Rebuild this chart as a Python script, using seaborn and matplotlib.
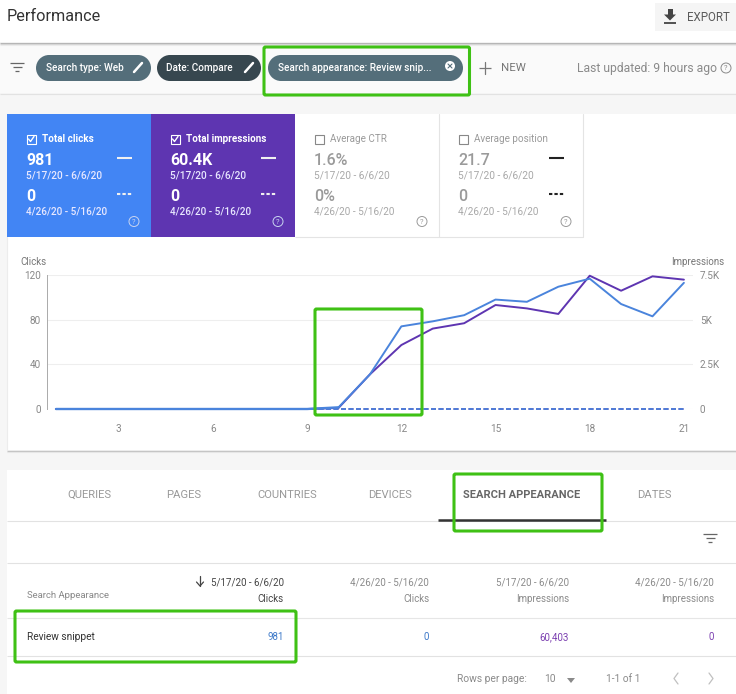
import matplotlib
matplotlib.use('Agg')
import matplotlib.pyplot as plt
import seaborn as sns
from matplotlib.patches import FancyBboxPatch, Rectangle, Circle

days = list(range(1, 22))
clicks_current = [0, 0, 0, 0, 0, 0, 0, 0, 0, 1.5, 31, 74, 78.5, 84, 98, 96, 109.5, 116.7, 94, 83, 113]
impressions_current = [0, 0, 0, 0, 0, 0, 0, 0, 0, 60, 1940, 3580, 4500, 4800, 5820, 5630, 5320, 7460, 6620, 7425, 7240]
clicks_previous = [0] * 21
impressions_previous = [0] * 21

click_ticks = [0, 40, 80, 120]
impression_ticks = [0, 2500, 5000, 7500]
impression_tick_labels = ['0', '2.5K', '5K', '7.5K']
day_ticks = [3, 6, 9, 12, 15, 18, 21]

card_titles = ['Total clicks', 'Total impressions', 'Average CTR', 'Average position']
card_current = ['981', '60.4K', '1.6%', '21.7']
card_previous = ['0', '0', '0%', '0']
chips = ['Search type: Web', 'Date: Compare', 'Search appearance: Review snip...']
tabs = ['QUERIES', 'PAGES', 'COUNTRIES', 'DEVICES', 'SEARCH APPEARANCE', 'DATES']
table_dates = ['5/17/20 - 6/6/20', '4/26/20 - 5/16/20', '5/17/20 - 6/6/20', '4/26/20 - 5/16/20']
table_metrics = ['Clicks', 'Clicks', 'Impressions', 'Impressions']
table_values = ['981', '0', '60,403', '0']

BLUE = '#4285f4'
PURPLE = '#5e35b1'
LINE_BLUE = '#4a84dc'
GREEN = '#3fc115'
GREY = '#7a7a7a'

sns.set_theme(style='white')
plt.rcParams['font.family'] = ['Roboto', 'DejaVu Sans']

fig = plt.figure(figsize=(7.36, 6.94), dpi=100, facecolor='#f6f6f6')


def pixel_axes(zorder):
    a = fig.add_axes([0, 0, 1, 1], zorder=zorder)
    a.set_xlim(0, 736)
    a.set_ylim(694, 0)
    a.axis('off')
    return a


bg = pixel_axes(0)
top = pixel_axes(5)


def txt(x, y, s, size=6.6, color=GREY, ha='left', weight='normal', a=None):
    (a or bg).text(x, y, s, fontsize=size, color=color, ha=ha, va='center', weight=weight, zorder=4)


def box(x0, y0, x1, y1, color, ec='none', lw=0, z=1):
    bg.add_patch(Rectangle((x0, y0), x1 - x0, y1 - y0, fc=color, ec=ec, lw=lw, zorder=z))


def hline(x0, x1, y, color='#e0e0e0', lw=0.8, ls='-', z=2):
    bg.plot([x0, x1], [y, y], color=color, lw=lw, ls=ls, zorder=z, solid_capstyle='butt')


def filter_icon(x, y):
    hline(x - 7, x + 7, y - 4, color='#666666', lw=0.9)
    hline(x - 4.5, x + 4.5, y, color='#666666', lw=0.9)
    hline(x - 2, x + 2, y + 4, color='#666666', lw=0.9)


def help_icon(x, y, color):
    bg.add_patch(Circle((x, y), 5, fc='none', ec=color, lw=0.7, zorder=3))
    txt(x, y, '?', size=5.5, color=color, ha='center')


# header
box(0, 0, 736, 42, 'white')
for i, c in enumerate(['#b5b5b5', '#d5d5d5', '#ebebeb']):
    hline(0, 736, 42.5 + i, color=c, lw=0.8)
txt(7, 16, 'Performance', size=11.7, color='#333333')
box(655, 3, 736, 31, '#f5f5f5')
bg.fill([664, 676, 670], [14.5, 14.5, 20.5], color='#444444', lw=0, zorder=3)
bg.add_patch(Rectangle((667.5, 9), 5, 6, fc='#444444', lw=0, zorder=3))
hline(664, 676, 22.5, color='#444444', lw=1.3, z=3)
txt(687, 17, 'EXPORT', size=8.3, color='#5a5a5a')

# filter bar
box(0, 45, 736, 93, '#fafafa')
hline(0, 736, 93.5, color='#e2e2e2')
filter_icon(17, 67)
chip_spans = [(36, 151, '#546e7a'), (157, 261, '#37474f'), (268, 463, '#546e7a')]
for (x0, x1, c), label in zip(chip_spans, chips):
    bg.add_patch(Circle((x0 + 13, 68), 13, fc=c, lw=0, zorder=2))
    bg.add_patch(Circle((x1 - 13, 68), 13, fc=c, lw=0, zorder=2))
    bg.add_patch(Rectangle((x0 + 13, 55), x1 - x0 - 26, 26, fc=c, lw=0, zorder=2))
    txt(x0 + 9.5, 68, label, size=7.2, color='white', weight='medium')
for x in [138, 249]:
    bg.plot([x - 4, x + 4], [72, 63], color='white', lw=1.8, zorder=3)
bg.add_patch(Circle((450, 66), 5, fc='white', lw=0, zorder=3))
bg.plot([448, 452], [64, 68], color='#546e7a', lw=0.8, zorder=4)
bg.plot([448, 452], [68, 64], color='#546e7a', lw=0.8, zorder=4)
hline(479, 491, 68, color='#777777', lw=0.9)
bg.plot([485, 485], [62, 74], color='#777777', lw=0.9, zorder=2)
txt(501, 68, 'NEW', size=8.2, color='#777777')
txt(577, 68, 'Last updated: 9 hours ago', size=8.7, color='#8a8a8a')
help_icon(726, 68, '#8a8a8a')

# summary cards and chart panel
box(7, 114, 736, 450, 'white')
card_fills = [BLUE, PURPLE, 'white', 'white']
for i, title in enumerate(card_titles):
    x0 = 7 + 144 * i
    filled = i < 2
    box(x0, 114, x0 + 144, 237, card_fills[i])
    soft = 'white' if filled else '#9a9a9a'
    sub = '#e8e8ff' if filled else '#a8a8a8'
    bg.add_patch(Rectangle((x0 + 19.5, 134.5), 9.5, 9.5, fc='none', ec=soft if filled else '#888888', lw=0.8, zorder=3))
    if filled:
        bg.plot([x0 + 21.5, x0 + 23.5, x0 + 27], [139, 141.5, 136.5], color='white', lw=1, zorder=3)
    txt(x0 + 35, 139, title, size=7.1, color=soft, weight='bold' if filled else 'normal')
    txt(x0 + 19, 160.5, card_current[i], size=11.5, color=soft, weight='bold' if filled else 'medium')
    txt(x0 + 19, 175.5, table_dates[0], size=7.3, color=sub, weight='medium' if filled else 'normal')
    txt(x0 + 19, 196, card_previous[i], size=11.5, color=soft, weight='bold' if filled else 'medium')
    txt(x0 + 19, 211.5, table_dates[1], size=7.2, color=sub, weight='medium' if filled else 'normal')
    if i != 2:
        dash = '#f0f0f0' if filled else '#222222'
        hline(x0 + 110, x0 + 125, 157.5, color=dash, lw=1.5, z=3)
        hline(x0 + 110, x0 + 125, 193.5, color=dash, lw=1.5, ls=(0, (1.6, 1)), z=3)
    help_icon(x0 + 127, 221.5, '#c8d4f0' if filled else '#9a9a9a')
hline(295, 583, 237, color='#e4e4e4')
bg.plot([439, 439], [114, 237], color='#e4e4e4', lw=0.8, zorder=3)
bg.plot([583, 583], [114, 237], color='#e4e4e4', lw=0.8, zorder=3)
hline(7, 736, 450.5, color='#c4c4c4', lw=1)
hline(7, 736, 451.5, color='#e6e6e6', lw=0.8)
bg.plot([6.5, 6.5], [237, 450], color='#ececec', lw=0.8, zorder=2)

# line chart
left, right, y_top, y_zero = 46.7, 693, 275, 409
ax_imp = fig.add_axes([left / 736, 1 - y_zero / 694, (right - left) / 736, (y_zero - y_top) / 694], zorder=3)
ax = ax_imp.twinx()
ax_imp.yaxis.tick_right()

sns.lineplot(x=days, y=impressions_previous, ax=ax_imp, color=PURPLE, lw=1.2, linestyle=(0, (3, 1.5)))
sns.lineplot(x=days, y=impressions_current, ax=ax_imp, color=PURPLE, lw=1.4)
sns.lineplot(x=days, y=clicks_previous, ax=ax, color=LINE_BLUE, lw=1.2, linestyle=(0, (3, 1.5)))
sns.lineplot(x=days[:10], y=clicks_current[:10], ax=ax, color=LINE_BLUE, lw=1.7)
sns.lineplot(x=days[9:], y=clicks_current[9:], ax=ax, color=LINE_BLUE, lw=1.4)

ax.set_xlim(0.704, 21.29)
ax.set_ylim(0, 120)
ax_imp.set_ylim(0, 7500)
ax_imp.set_xticks(day_ticks)
ax_imp.set_yticks(impression_ticks, impression_tick_labels)
ax.set_yticks(click_ticks)
ax.yaxis.tick_left()
ax_imp.yaxis.tick_right()
ax_imp.grid(axis='y', color='#eeeeee', lw=0.8)
ax_imp.set_axisbelow(True)
ax_imp.set_ylabel('')
ax.set_ylabel('')
for a in (ax, ax_imp):
    for s in a.spines.values():
        s.set_visible(False)
    a.patch.set_visible(False)
    for line in a.get_lines():
        line.set_clip_on(False)
ax.spines['left'].set_visible(True)
ax.spines['left'].set_color('#aaaaaa')
ax.spines['left'].set_linewidth(0.7)
ax_imp.tick_params(axis='x', length=0, pad=11, labelsize=7.2, labelcolor='#888888')
ax_imp.tick_params(axis='y', length=0, pad=5, labelsize=7.2, labelcolor='#888888')
ax.tick_params(axis='y', length=0, pad=4, labelsize=7.2, labelcolor='#888888')
txt(20, 261.5, 'Clicks', size=7, color='#777777')
txt(724, 261.5, 'Impressions', size=7, color='#777777', ha='right')

# table panel
box(7, 470, 736, 694, 'white')
tab_centers = [89, 184, 287, 390, 522, 654]
for label, x in zip(tabs, tab_centers):
    active = label == 'SEARCH APPEARANCE'
    txt(x, 495, label, size=8 if active else 8.1, color='#666666' if active else '#999999', ha='center', weight='bold' if active else 'normal')
hline(7, 736, 521, color='#e2e2e2')
hline(438, 606, 520, color='#333333', lw=1.8, z=3)
filter_icon(710, 538)
hline(7, 736, 563, color='#e2e2e2')
hline(7, 736, 618, color='#e6e6e6')
hline(7, 736, 656, color='#e2e2e2')
txt(27, 596, 'Search Appearance', size=6.8, color='#888888')
col_right = [284, 429, 569, 714]
value_colors = ['#3c78c8', '#3c78c8', '#7b3fb0', '#7b3fb0']
for i, x in enumerate(col_right):
    head = '#444444' if i == 0 else '#8a8a8a'
    txt(x, 582, table_dates[i], size=7, color=head, ha='right')
    txt(x, 599, table_metrics[i], size=7, color=head, ha='right')
    txt(x, 637, table_values[i], size=7, color=value_colors[i], ha='right')
bg.plot([200, 200], [576, 586], color='#444444', lw=0.9, zorder=3)
bg.plot([196.5, 200, 203.5], [582, 586, 582], color='#444444', lw=0.9, zorder=3)
txt(27, 637, 'Review snippet', size=7.3, color='#333333')
txt(457, 679, 'Rows per page:', size=7.4, color='#8a8a8a')
txt(550, 679, '10', size=7.4, color='#8a8a8a', ha='center')
bg.fill([567, 575, 571], [678, 678, 683], color='#8a8a8a', lw=0, zorder=3)
txt(606, 679, '1-1 of 1', size=7.3, color='#8a8a8a')
bg.plot([678, 674, 678], [673, 678.5, 684], color='#c0c0c0', lw=0.9, zorder=3)
bg.plot([709, 713, 709], [673, 678.5, 684], color='#c0c0c0', lw=0.9, zorder=3)

# green highlight boxes
highlights = [(264, 47, 469.5, 95), (315, 309, 422, 415), (454, 474, 602, 531), (15, 611, 296, 662)]
for x0, y0, x1, y1 in highlights:
    top.add_patch(FancyBboxPatch((x0, y0), x1 - x0, y1 - y0, boxstyle='round,pad=0,rounding_size=1.5',
                                 fc='none', ec=GREEN, lw=2.2))

fig.savefig('out.png', dpi=100, facecolor=fig.get_facecolor())
